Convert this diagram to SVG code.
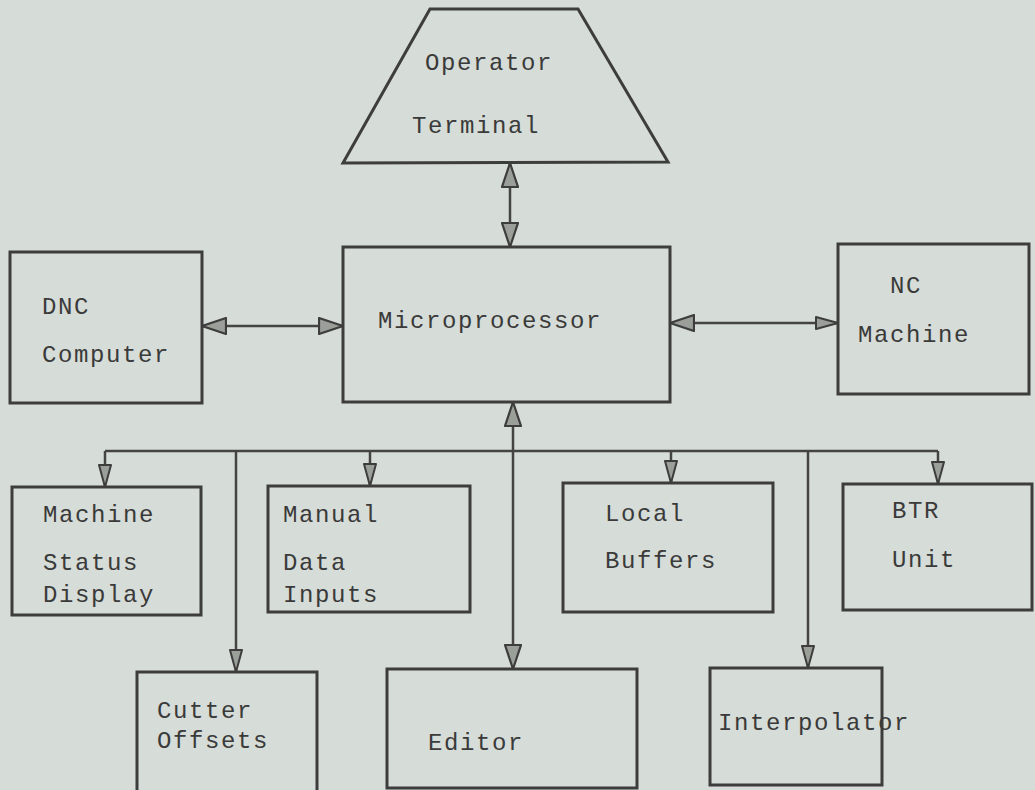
<svg xmlns="http://www.w3.org/2000/svg" width="1035" height="790" viewBox="0 0 1035 790">
<style>
.box{fill:none;stroke:#3d3d3d;stroke-width:3}
.ln{fill:none;stroke:#444;stroke-width:2.5}
.t{font-family:"Liberation Mono","Courier New",monospace;font-size:24px;letter-spacing:1.6px;fill:#3a3a3a}
</style>
<defs>
<marker id="arr" markerUnits="userSpaceOnUse" markerWidth="26" markerHeight="18" refX="24" refY="8" orient="auto-start-reverse" viewBox="-1 -1 26 18">
<path d="M0,0 L24,8 L0,16 Z" fill="#9a9f9a" stroke="#3d3d3d" stroke-width="2.2" stroke-linejoin="round"/>
</marker>
<marker id="arrS" markerUnits="userSpaceOnUse" markerWidth="24" markerHeight="14" refX="22" refY="6" orient="auto" viewBox="-1 -1 24 14">
<path d="M0,0 L22,6 L0,12 Z" fill="#9a9f9a" stroke="#3d3d3d" stroke-width="2" stroke-linejoin="round"/>
</marker>
</defs>
<rect x="0" y="0" width="1035" height="790" fill="#d6dcd7"/>

<g id="connectors">
<line class="ln" x1="510" y1="163" x2="510" y2="247" marker-start="url(#arr)" marker-end="url(#arr)"/>
<line class="ln" x1="202" y1="326" x2="343" y2="326" marker-start="url(#arr)" marker-end="url(#arr)"/>
<line class="ln" x1="670" y1="323" x2="838" y2="323" marker-start="url(#arr)" marker-end="url(#arrS)"/>
<line class="ln" x1="513" y1="402" x2="513" y2="669" marker-start="url(#arr)" marker-end="url(#arr)"/>
<line class="ln" x1="105" y1="451" x2="938" y2="451"/>
<line class="ln" x1="105" y1="451" x2="105" y2="487" marker-end="url(#arrS)"/>
<line class="ln" x1="370" y1="451" x2="370" y2="486" marker-end="url(#arrS)"/>
<line class="ln" x1="671" y1="451" x2="671" y2="483" marker-end="url(#arrS)"/>
<line class="ln" x1="938" y1="451" x2="938" y2="484" marker-end="url(#arrS)"/>
<line class="ln" x1="236" y1="451" x2="236" y2="672" marker-end="url(#arrS)"/>
<line class="ln" x1="808" y1="451" x2="808" y2="668" marker-end="url(#arrS)"/>
</g>

<g id="operator-terminal">
<polygon class="box" points="430,9 578,9 668,162 343,163"/>
<text class="t" x="425" y="70">Operator</text>
<text class="t" x="412" y="133">Terminal</text>
</g>

<g id="microprocessor">
<rect class="box" x="343" y="247" width="327" height="155"/>
<text class="t" x="378" y="328">Microprocessor</text>
</g>

<g id="dnc-computer">
<rect class="box" x="10" y="252" width="192" height="151"/>
<text class="t" x="42" y="314">DNC</text>
<text class="t" x="42" y="362">Computer</text>
</g>

<g id="nc-machine">
<rect class="box" x="838" y="244" width="191" height="150"/>
<text class="t" x="890" y="293">NC</text>
<text class="t" x="858" y="342">Machine</text>
</g>

<g id="machine-status-display">
<rect class="box" x="12" y="487" width="189" height="128"/>
<text class="t" x="43" y="522">Machine</text>
<text class="t" x="43" y="570">Status</text>
<text class="t" x="43" y="602">Display</text>
</g>

<g id="manual-data-inputs">
<rect class="box" x="268" y="486" width="202" height="126"/>
<text class="t" x="283" y="522">Manual</text>
<text class="t" x="283" y="570">Data</text>
<text class="t" x="283" y="602">Inputs</text>
</g>

<g id="local-buffers">
<rect class="box" x="563" y="483" width="210" height="129"/>
<text class="t" x="605" y="521">Local</text>
<text class="t" x="605" y="568">Buffers</text>
</g>

<g id="btr-unit">
<rect class="box" x="843" y="484" width="189" height="126"/>
<text class="t" x="892" y="518">BTR</text>
<text class="t" x="892" y="567">Unit</text>
</g>

<g id="cutter-offsets">
<rect class="box" x="137" y="672" width="180" height="120"/>
<text class="t" x="157" y="718">Cutter</text>
<text class="t" x="157" y="748">Offsets</text>
</g>

<g id="editor">
<rect class="box" x="387" y="669" width="250" height="119"/>
<text class="t" x="428" y="750">Editor</text>
</g>

<g id="interpolator">
<rect class="box" x="710" y="668" width="172" height="117"/>
<text class="t" x="718" y="730">Interpolator</text>
</g>
</svg>
